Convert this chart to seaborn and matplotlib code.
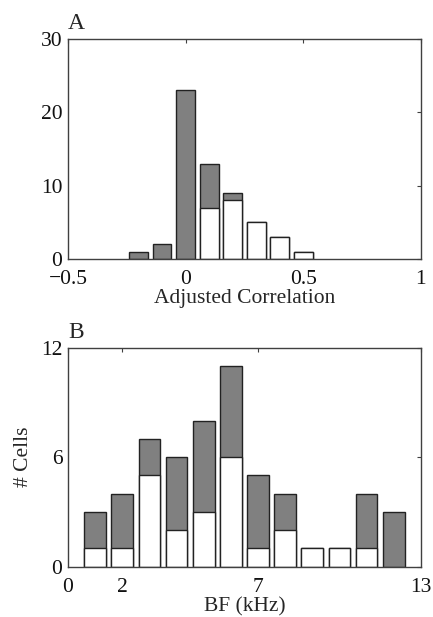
import numpy as np
import pandas as pd
import seaborn as sns
import matplotlib.pyplot as plt

# panel A: adjusted correlation histogram
corr_bins = [-0.2, -0.1, 0.0, 0.1, 0.2, 0.3, 0.4, 0.5]
corr_total = [1, 2, 23, 13, 9, 5, 3, 1]
corr_white = [0, 0, 0, 7, 8, 5, 3, 1]

# panel B: best frequency histogram
bf_bins = [1, 2, 3, 4, 5, 6, 7, 8, 9, 10, 11, 12]
bf_total = [3, 4, 7, 6, 8, 11, 5, 4, 1, 1, 4, 3]
bf_white = [1, 1, 5, 2, 3, 6, 1, 2, 1, 1, 1, 0]

sns.set_style("white")
plt.rcParams['font.family'] = ['Liberation Serif', 'DejaVu Serif']

fig = plt.figure(figsize=(4.33, 6.17), dpi=100)
axA = fig.add_axes([0.157, 0.580, 0.815, 0.357])
axB = fig.add_axes([0.157, 0.0815, 0.815, 0.355])

edge = '#222222'
fs = 15.5


def stacked(ax, bins, total, white):
    df = pd.DataFrame({'x': bins, 'total': total, 'white': white})
    sns.barplot(data=df, x='x', y='total', native_scale=True, width=0.8,
                color='#808080', saturation=1, edgecolor=edge, linewidth=1.0, ax=ax)
    dw = df[df['white'] > 0]
    sns.barplot(data=dw, x='x', y='white', native_scale=True, width=0.8,
                color='white', saturation=1, edgecolor=edge, linewidth=1.0, ax=ax)
    # keep all bars the same width (white subset has its own spacing)
    step = np.min(np.diff(bins))
    for p in ax.patches:
        cx = p.get_x() + p.get_width() / 2
        p.set_width(0.8 * step)
        p.set_x(cx - 0.4 * step)
    ax.set_xlabel('')
    ax.set_ylabel('')
    for s in ax.spines.values():
        s.set_color('#404040')
        s.set_linewidth(1.0)
    ax.tick_params(direction='in', length=3, width=0.8, color='#404040',
                   top=True, right=True, labelsize=fs, labelcolor='#111111')
    ax.tick_params(axis='x', pad=8)
    ax.tick_params(axis='y', pad=4)


stacked(axA, corr_bins, corr_total, corr_white)
axA.set_xlim(-0.5, 1)
axA.set_ylim(0, 30)
axA.set_xticks([-0.5, 0, 0.5, 1])
axA.set_xticklabels(['\u22120.5', '0', '0.5', '1'])
axA.set_yticks([0, 10, 20, 30])
axA.set_xlabel('Adjusted Correlation', fontsize=fs, labelpad=0)
axA.text(0.0, 1.02, 'A', transform=axA.transAxes, fontsize=17, ha='left', va='bottom')

stacked(axB, bf_bins, bf_total, bf_white)
axB.set_xlim(0, 13)
axB.set_ylim(0, 12)
axB.set_xticks([0, 2, 7, 13])
axB.set_yticks([0, 6, 12])
axB.set_xlabel('BF (kHz)', fontsize=fs, labelpad=0)
axB.set_ylabel('# Cells', fontsize=fs, labelpad=6)
axB.text(0.0, 1.02, 'B', transform=axB.transAxes, fontsize=17, ha='left', va='bottom')

fig.savefig('out.png', dpi=100)
